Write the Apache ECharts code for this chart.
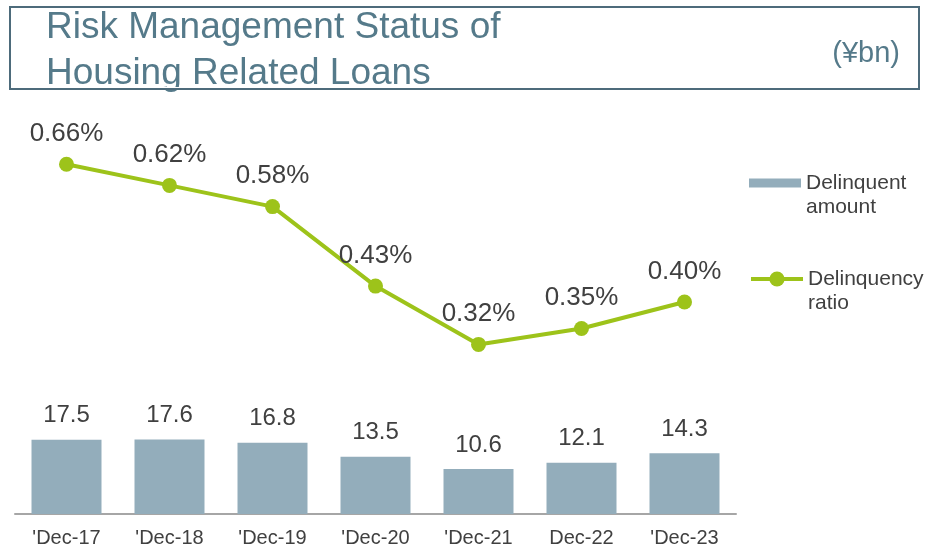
<!DOCTYPE html>
<html>
<head>
<meta charset="utf-8">
<script src="https://cdn.jsdelivr.net/npm/echarts@6/dist/echarts.min.js"></script>
<style>
  html, body { margin: 0; padding: 0; background: #fff; }
  #chart { width: 926px; height: 547px; }
</style>
</head>
<body>
<div id="chart"></div>
<script>
// data
const categories = ["'Dec-17", "'Dec-18", "'Dec-19", "'Dec-20", "'Dec-21", "Dec-22", "'Dec-23"];
const amounts = [17.5, 17.6, 16.8, 13.5, 10.6, 12.1, 14.3];
const ratios = [0.66, 0.62, 0.58, 0.43, 0.32, 0.35, 0.40];

const FONT = "'Liberation Sans', Arial, 'Noto Sans CJK JP', sans-serif";
const TITLE_COLOR = '#557a8a';
const TEXT_COLOR = '#404040';
const BAR_COLOR = '#93adbb';
const LINE_COLOR = '#9dc31a';

const chart = echarts.init(document.getElementById('chart'), null, { renderer: 'canvas' });

// legend text: empty first line so the icon lines up with the first word
const legendText = n => '\n' + n.replace(' ', '\n');

chart.setOption({
    animation: false,
    textStyle: { fontFamily: FONT },
    title: [
        {
            text: 'Risk Management Status of\nHousing Related Loans',
            left: 46,
            top: 5,
            padding: 0,
            textStyle: { fontFamily: FONT, fontSize: 37, fontWeight: 'normal', color: TITLE_COLOR, lineHeight: 46 }
        },
        {
            text: '(¥bn)',
            right: 26,
            top: 39,
            padding: 0,
            textStyle: { fontFamily: FONT, fontSize: 29, fontWeight: 'normal', color: TITLE_COLOR }
        }
    ],
    graphic: [
        // clip the descender of the second title line, like the source slide
        { type: 'rect', z: 100, shape: { x: 12, y: 87, width: 906, height: 3 }, style: { fill: '#fff' } },
        { type: 'rect', z: 101, shape: { x: 10, y: 7, width: 909, height: 82 }, style: { fill: 'none', stroke: '#4d6b7b', lineWidth: 2 } }
    ],
    legend: [
        {
            data: [{ name: 'Delinquent amount', icon: 'rect' }],
            orient: 'vertical',
            left: 749,
            top: 147,
            padding: 0,
            itemWidth: 52,
            itemHeight: 9,
            formatter: legendText,
            textStyle: { fontFamily: FONT, fontSize: 21, color: TEXT_COLOR, lineHeight: 24 }
        },
        {
            data: ['Delinquency ratio'],
            orient: 'vertical',
            left: 749,
            top: 243,
            padding: 0,
            itemWidth: 52,
            itemHeight: 19,
            lineStyle: { width: 4 },
            formatter: legendText,
            textStyle: { fontFamily: FONT, fontSize: 21, color: TEXT_COLOR, lineHeight: 24 }
        }
    ],
    grid: { left: 15, right: 190, top: 90, bottom: 33, containLabel: false, outerBoundsMode: 'none' },
    xAxis: {
        type: 'category',
        data: categories,
        axisLine: { lineStyle: { color: '#a6a6a6', width: 2 } },
        axisTick: { show: false },
        axisLabel: { fontFamily: FONT, fontSize: 20, color: TEXT_COLOR, margin: 14, interval: 0 }
    },
    yAxis: [
        { type: 'value', min: 0, max: 100, show: false, splitLine: { show: false } },
        { type: 'value', min: 0, max: 0.8, show: false, splitLine: { show: false } }
    ],
    series: [
        {
            name: 'Delinquent amount',
            type: 'bar',
            yAxisIndex: 0,
            data: amounts,
            barWidth: 70,
            itemStyle: { color: BAR_COLOR },
            label: {
                show: true,
                position: 'top',
                distance: 12,
                fontFamily: FONT,
                fontSize: 24,
                color: TEXT_COLOR,
                formatter: p => p.value.toFixed(1)
            }
        },
        {
            name: 'Delinquency ratio',
            type: 'line',
            yAxisIndex: 1,
            data: ratios,
            symbol: 'circle',
            symbolSize: 15,
            lineStyle: { color: LINE_COLOR, width: 4 },
            itemStyle: { color: LINE_COLOR },
            label: {
                show: true,
                position: 'top',
                distance: 10,
                fontFamily: FONT,
                fontSize: 26,
                color: TEXT_COLOR,
                formatter: p => p.value.toFixed(2) + '%'
            }
        }
    ]
});
</script>
</body>
</html>
